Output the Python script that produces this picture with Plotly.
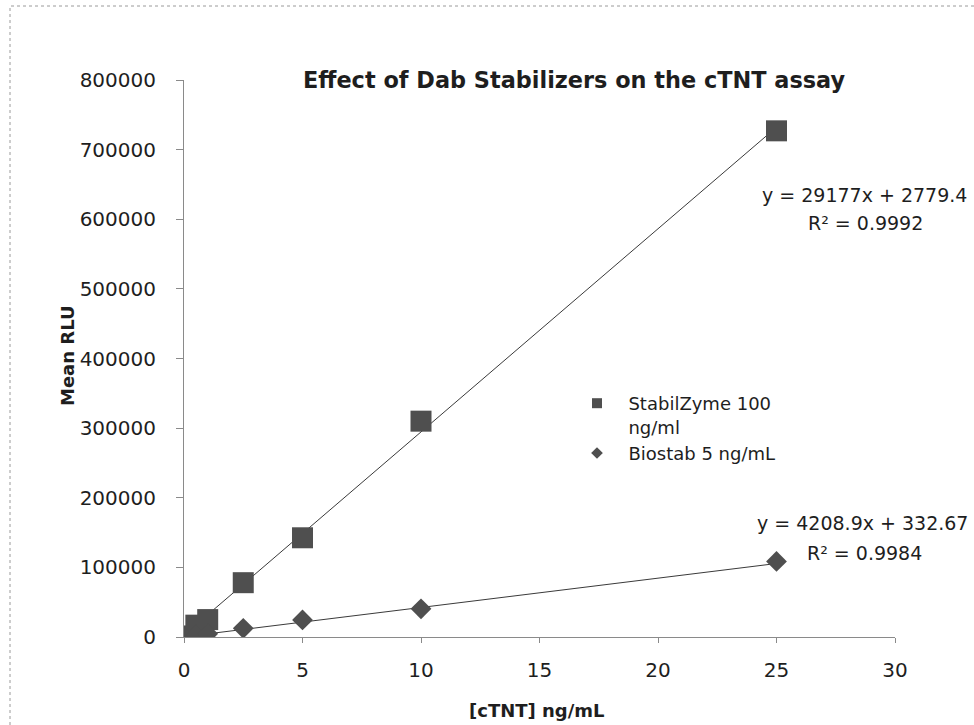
import plotly.graph_objects as go

# ---- data ----
conc_stab = [0, 0.5, 1, 2.5, 5, 10, 25]
rlu_stab = [1500, 17000, 25000, 78000, 142500, 310000, 727000]
conc_bio = [0, 0.5, 1, 2.5, 5, 10, 25]
rlu_bio = [300, 2500, 4500, 12500, 24500, 40500, 108500]

series_names = ["StabilZyme 100<br>ng/ml", "Biostab 5 ng/mL"]
fit_stab = (29177, 2779.4)
fit_bio = (4208.9, 332.67)
eq_stab = ["y = 29177x + 2779.4", "R² = 0.9992"]
eq_bio = ["y = 4208.9x + 332.67", "R² = 0.9984"]
fit_x = [0, 25]

x_ticks = [0, 5, 10, 15, 20, 25, 30]
y_ticks = [0, 100000, 200000, 300000, 400000, 500000, 600000, 700000, 800000]

FONT = "DejaVu Sans"
TXT = "#1e1e1e"
MK = "#4f4f4f"
AX = "#8a8a8a"

W, H = 974, 725
L, R, T, B = 184, 79, 80, 88
PW, PH = W - L - R, H - T - B


def px(x):
    return (x - L) / PW


def py(y):
    return (H - B - y) / PH


fig = go.Figure()

# trendlines
for (m, c) in (fit_stab, fit_bio):
    fig.add_trace(go.Scatter(
        x=fit_x, y=[m * v + c for v in fit_x], mode="lines",
        line=dict(color="#3a3a3a", width=1), showlegend=False, hoverinfo="skip"))

# data markers
fig.add_trace(go.Scatter(
    x=conc_stab, y=rlu_stab, mode="markers", showlegend=False,
    marker=dict(symbol="square", size=21, color=MK, line=dict(width=0))))
fig.add_trace(go.Scatter(
    x=conc_bio, y=rlu_bio, mode="markers", showlegend=False,
    marker=dict(symbol="diamond", size=16, color=MK, line=dict(width=0))))

# legend entries (small legend symbols as in the reference)
pad = "\u00a0\u00a0"
fig.add_trace(go.Scatter(
    x=[None], y=[None], mode="markers",
    name=pad + series_names[0].replace("<br>", "<br>" + pad),
    marker=dict(symbol="square", size=10, color=MK)))
fig.add_trace(go.Scatter(
    x=[None], y=[None], mode="markers", name=pad + series_names[1],
    marker=dict(symbol="diamond", size=9, color=MK)))

annotations = []
for txt, xp, yp in ((eq_stab[0], 760, 195), (eq_stab[1], 806, 223),
                    (eq_bio[0], 755, 523), (eq_bio[1], 805, 553)):
    annotations.append(dict(
        text=txt, xref="paper", yref="paper", x=px(xp), y=py(yp),
        xanchor="left", yanchor="middle", showarrow=False,
        font=dict(family=FONT, size=19, color=TXT)))

annotations.append(dict(
    text="<b>Effect of Dab Stabilizers on the cTNT assay</b>",
    xref="paper", yref="paper", x=px(574), y=py(80),
    xanchor="center", yanchor="middle", showarrow=False,
    font=dict(family=FONT, size=22.4, color=TXT)))
annotations.append(dict(
    text="<b>Mean RLU</b>", textangle=-90,
    xref="paper", yref="paper", x=px(67), y=py(356),
    xanchor="center", yanchor="middle", showarrow=False,
    font=dict(family=FONT, size=18, color=TXT)))
annotations.append(dict(
    text="<b>[cTNT] ng/mL</b>",
    xref="paper", yref="paper", x=px(537), y=py(710),
    xanchor="center", yanchor="middle", showarrow=False,
    font=dict(family=FONT, size=18, color=TXT)))

fig.update_layout(
    width=W, height=H,
    margin=dict(l=L, r=R, t=T, b=B, pad=0),
    paper_bgcolor="white", plot_bgcolor="white",
    font=dict(family=FONT, size=20, color=TXT),
    showlegend=True,
    legend=dict(
        x=px(577), y=py(385), xanchor="left", yanchor="top",
        bgcolor="rgba(0,0,0,0)", borderwidth=0, valign="top",
        font=dict(family=FONT, size=18, color=TXT),
        tracegroupgap=0, itemsizing="trace"),
    annotations=annotations,
    shapes=[dict(
        type="rect", xref="paper", yref="paper",
        x0=px(10), x1=px(1100), y0=py(800), y1=py(6),
        line=dict(color="#9a9a9a", width=1, dash="dot"), layer="below")],
)

fig.update_xaxes(
    range=[0, 30], tickvals=x_ticks, ticktext=[str(v) for v in x_ticks],
    showgrid=False, zeroline=False, showline=True, linecolor=AX, linewidth=1,
    ticks="outside", ticklen=5, tickcolor=AX, tickwidth=1,
    ticklabelstandoff=10, tickfont=dict(family=FONT, size=20, color=TXT))
fig.update_yaxes(
    range=[0, 800000], tickvals=y_ticks, ticktext=[str(v) for v in y_ticks],
    showgrid=False, zeroline=False, showline=True, linecolor=AX, linewidth=1,
    ticks="outside", ticklen=7, tickcolor=AX, tickwidth=1,
    ticklabelstandoff=16, tickfont=dict(family=FONT, size=20, color=TXT))

fig.write_html("out.html")
